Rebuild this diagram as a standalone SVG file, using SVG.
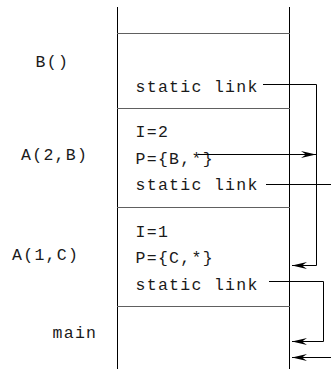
<svg xmlns="http://www.w3.org/2000/svg" width="331" height="369" viewBox="0 0 331 369">
<style>
text{font-family:"Liberation Mono","Courier New",monospace;font-size:16.5px;letter-spacing:1.3px;fill:#1a1a1a}
.wall{stroke:#000;stroke-width:1;fill:none}
.sep{stroke:#606060;stroke-width:1;fill:none}
.conn{stroke:#000;stroke-width:1;fill:none}
</style>
<defs>
<marker id="ah" markerUnits="userSpaceOnUse" markerWidth="16" markerHeight="8" refX="15" refY="4" orient="auto">
<path d="M0,0.6 L15,4 L0,7.4 L5,4 Z" fill="#000"/>
</marker>
</defs>
<g id="stack">
<line class="wall" x1="117.5" y1="7" x2="117.5" y2="369"/>
<line class="wall" x1="289.5" y1="7" x2="289.5" y2="369"/>
</g>
<g id="frame-B">
<line class="sep" x1="117" y1="33.5" x2="290" y2="33.5"/>
<text x="35.5" y="67">B()</text>
<text x="135.5" y="92">static link</text>
</g>
<g id="frame-A2B">
<line class="sep" x1="117" y1="108.5" x2="290" y2="108.5"/>
<text x="21" y="160">A(2,B)</text>
<text x="135.5" y="137">I=2</text>
<text x="135.5" y="163.5">P={B,*}</text>
<text x="135.5" y="190">static link</text>
</g>
<g id="frame-A1C">
<line class="sep" x1="117" y1="207.5" x2="290" y2="207.5"/>
<text x="12" y="260">A(1,C)</text>
<text x="135.5" y="237">I=1</text>
<text x="135.5" y="263">P={C,*}</text>
<text x="135.5" y="290">static link</text>
</g>
<g id="frame-main">
<line class="sep" x1="117" y1="306.5" x2="290" y2="306.5"/>
<text x="52.5" y="338">main</text>
</g>
<g id="connectors">
<path class="conn" d="M263,84.5 H316.5 V265.5 H292" marker-end="url(#ah)"/>
<path class="conn" d="M198,154.5 H316" marker-end="url(#ah)"/>
<path class="conn" d="M266,184.5 H331"/>
<path class="conn" d="M269,281.5 H323.5 V341.5 H292" marker-end="url(#ah)"/>
<path class="conn" d="M331,357.5 H292" marker-end="url(#ah)"/>
</g>
</svg>
